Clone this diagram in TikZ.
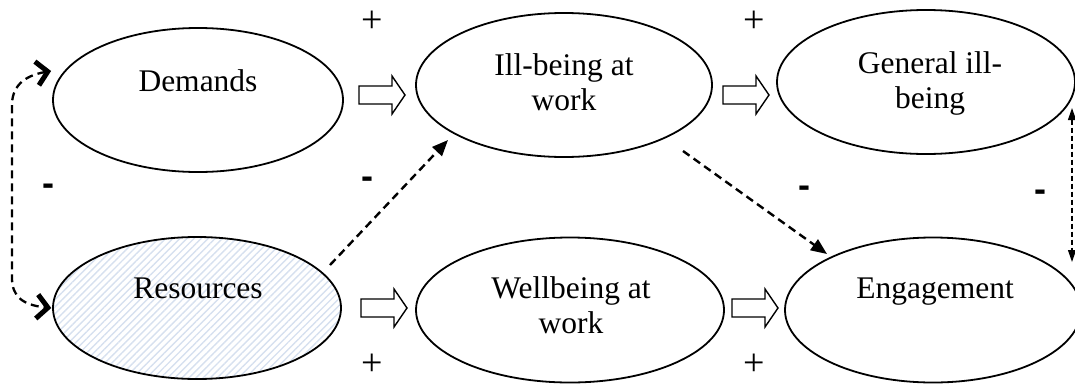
\documentclass[tikz,border=0pt]{standalone}
\usepackage{fontspec}
\setmainfont{Liberation Serif}
\newfontfamily\signfont{Liberation Sans}
\usetikzlibrary{shapes.geometric,arrows.meta,patterns.meta,calc}
\definecolor{hatch}{HTML}{D6E0EF}

\begin{document}
\begin{tikzpicture}[x=1pt,y=-1pt,
  oval/.style={ellipse, draw, line width=1.8pt, inner sep=0pt},
  lbl/.style={font=\fontsize{31.5}{35}\selectfont, align=center, anchor=base, inner sep=0pt},
  plus/.style={font=\fontsize{38}{40}\selectfont, inner sep=0pt},
  minus/.style={font=\signfont\bfseries\fontsize{36}{40}\selectfont, inner sep=0pt},
  loopline/.style={line width=2.3pt, dash pattern=on 8pt off 5pt,
    {Straight Barb[length=11pt,width=24pt,line width=5pt]}-{Straight Barb[length=11pt,width=24pt,line width=5pt]}},
  effect/.style={line width=2.4pt, dash pattern=on 8pt off 5pt,
    -{Triangle[length=16pt,width=13pt]}},
  corr/.style={line width=1.3pt, dash pattern=on 5pt off 3pt,
    {Triangle[length=12pt,width=8pt]}-{Triangle[length=12pt,width=8pt]}},
  hollow arrow/.pic={\draw[line width=1.4pt, line join=miter, fill=white]
    (0,-9) -- (33,-9) -- (33,-19) -- (46,0) -- (33,19) -- (33,9) -- (0,9) -- cycle;}
]
\useasboundingbox (0,0) rectangle (1075,383);

% constructs
\node[oval, minimum width=290pt, minimum height=144pt] (dem) at (198,100) {};
\node[oval, minimum width=288pt, minimum height=142pt,
      pattern={Lines[angle=45,distance=5pt,line width=1.4pt]}, pattern color=hatch] (res) at (197,308) {};
\node[oval, minimum width=296pt, minimum height=144pt] (ill) at (564,85) {};
\node[oval, minimum width=308pt, minimum height=145pt] (well) at (570,310) {};
\node[oval, minimum width=298pt, minimum height=144pt] (gen) at (926,82) {};
\node[oval, minimum width=296pt, minimum height=145pt] (eng) at (933,310) {};

% labels (base anchor sits on the last line)
\node[lbl] (demt) at ($(dem.center)+(0,-9)$) {Demands};
\node[lbl] (rest) at ($(res.center)+(1,-10)$) {Resources};
\node[lbl] (illt) at ($(ill.center)+(0,25)$) {Ill-being at\\work};
\node[lbl] (gent) at ($(gen.center)+(4,26)$) {General ill-\\being};
\node[lbl] (wellt) at ($(well.center)+(1,23)$) {Wellbeing at\\work};
\node[lbl] (engt) at ($(eng.center)+(2,-12)$) {Engagement};

% hollow block arrows
\pic at (359,95) {hollow arrow};
\pic at (723,95) {hollow arrow};
\pic at (361,308) {hollow arrow};
\pic at (732,308) {hollow arrow};

% dashed connectors
\draw[loopline] ($(dem.west)+(-1,-29)$) .. controls (22,76) and (12,88) .. (12,105)
  -- (12,278) .. controls (12,296) and (22,305) .. ($(res.west)+(-1,0)$);
\draw[effect] ($(res.center)+(133,-43)$) -- ($(ill.center)+(-116,55)$);
\draw[effect] ($(ill.center)+(119,66)$) -- ($(eng.center)+(-106,-56)$);
\draw[corr] ($(gen.center)+(146,26)$) -- ($(eng.center)+(139,-48)$);

% signs
\node[plus] (p1) at (372,22) {+};
\node[plus] (p2) at (754,22) {+};
\node[plus] (p3) at (372,365) {+};
\node[plus] (p4) at (754,365) {+};
\node[minus] (m1) at (48,190) {-};
\node[minus] (m2) at (367,183) {-};
\node[minus] (m3) at (804,192) {-};
\node[minus] (m4) at (1040,196) {-};
\end{tikzpicture}
\end{document}
